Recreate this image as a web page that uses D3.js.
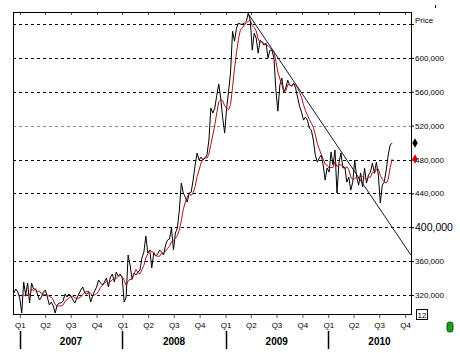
<!DOCTYPE html>
<html>
<head>
<meta charset="utf-8">
<script src="https://cdn.jsdelivr.net/npm/d3@7"></script>
<style>
body{margin:0;background:#fff;}
svg{display:block;}
text{font-family:"Liberation Sans",Arial,sans-serif;}
</style>
</head>
<body>
<svg id="chart" width="460" height="353"></svg>
<script>
// weekly closing price, first week starting 2006-12-11
var firstWeek = new Date(2006, 11, 11);
var price = [
  322400, 327100, 323500, 316500, 298800, 335300, 320000, 334200, 310600, 334200,
  327100, 327100, 321200, 314100, 317600, 323500, 325900, 317600, 308200, 311700,
  307000, 298800, 308200, 310600, 310600, 312900, 321200, 317600, 321200, 318800,
  314100, 310600, 316500, 321200, 325900, 329400, 322400, 321200, 323500, 311700,
  318800, 324700, 329400, 337700, 334200, 331800, 335300, 340100, 329400, 341200,
  344800, 335300, 347100, 342400, 344800, 340100, 311700, 317600, 367200, 355400,
  338900, 346000, 343600, 347100, 349500, 363700, 370700, 389600, 369600, 373100,
  351900, 369600, 366000, 368400, 373100, 370700, 367200, 379000, 384900, 386100,
  399100, 373100, 393200, 399100, 420300, 452200, 440400, 435600, 429700, 440400,
  441500, 455700, 473400, 487600, 479300, 482800, 479300, 481700, 485200, 502900,
  540700, 534800, 540700, 556000, 569000, 552500, 528900, 511200, 540700, 560700,
  583100, 631500, 619700, 635100, 641000, 639800, 639800, 641000, 643300, 652800,
  644500, 609100, 629200, 623300, 605600, 620900, 618500, 615000, 617400, 599700,
  609100, 609100, 599700, 561900, 537100, 567800, 576100, 559500, 564300, 573700,
  567800, 566600, 570200, 564300, 553600, 543000, 535900, 526500, 530000, 526500,
  517100, 514700, 502900, 485200, 476900, 481700, 485200, 473400, 455700, 469900,
  465100, 488700, 473400, 491100, 440400, 475800, 487600, 469900, 471000, 453300,
  459200, 443900, 453300, 479300, 459200, 449800, 464000, 447400, 469900, 452200,
  461600, 465100, 475800, 464000, 476900, 461600, 428600, 449800, 453300, 467500,
  485200, 497000, 499400
];
var maWeeks = 5;
// trend line drawn from the top through the lows
var trendDates = [new Date(2009, 2, 19), new Date(2010, 9, 22)];
var trendValues = [654000, 367000];

var priceTicks = [320000, 360000, 400000, 440000, 480000, 520000, 560000, 600000, 640000];
var years = [2007, 2008, 2009, 2010];
var quarterNames = ["Q1", "Q2", "Q3", "Q4"];

var svg = d3.select("#chart");

var x = d3.scaleTime()
  .domain([new Date(2006, 11, 8), new Date(2010, 9, 22)])
  .range([13, 411]);
var y = d3.scaleLinear()
  .domain([320000, 640000])
  .range([295, 24]);

var data = price.map(function(v, i){
  return {date: d3.timeDay.offset(firstWeek, 7*i), value: v};
});
var avg = [];
for(var i=maWeeks-1; i<data.length; i++){
  avg.push({
    date: data[i].date,
    value: d3.mean(data.slice(i-maWeeks+1, i+1), function(d){ return d.value; })
  });
}

//gridlines
svg.selectAll("line.grid")
  .data(priceTicks)
  .enter()
  .append("line")
  .attr("class", "grid")
  .attr("x1", 13)
  .attr("x2", 411)
  .attr("y1", function(d){ return Math.round(y(d)) + 0.5; })
  .attr("y2", function(d){ return Math.round(y(d)) + 0.5; })
  .attr("stroke", function(d){ return d == 520000 ? "#8a8a8a" : "#000"; })
  .attr("stroke-width", 1)
  .attr("stroke-dasharray", "3,3");

//quarters
var quarters = d3.timeMonths(new Date(2007, 0, 1), new Date(2010, 9, 2), 3);

svg.append("g")
  .attr("transform", "translate(0,315)")
  .call(d3.axisBottom(x)
    .tickValues(quarters)
    .tickSize(3)
    .tickPadding(4)
    .tickFormat(function(d){ return quarterNames[d.getMonth()/3]; }))
  .call(function(g){
    g.select(".domain").remove();
    g.selectAll("line").attr("stroke", "#555");
    g.selectAll("text")
      .attr("font-size", 8)
      .attr("font-family", "Liberation Sans, Arial")
      .attr("fill", "#000");
  });

svg.selectAll("line.toptick")
  .data(quarters)
  .enter()
  .append("line")
  .attr("class", "toptick")
  .attr("x1", function(d){ return Math.round(x(d)) + 0.5; })
  .attr("x2", function(d){ return Math.round(x(d)) + 0.5; })
  .attr("y1", 12)
  .attr("y2", 15)
  .attr("stroke", "#555");

//years
svg.selectAll("line.yearsep")
  .data(years)
  .enter()
  .append("line")
  .attr("class", "yearsep")
  .attr("x1", function(d){ return Math.round(x(new Date(d, 0, 1))) + 0.5; })
  .attr("x2", function(d){ return Math.round(x(new Date(d, 0, 1))) + 0.5; })
  .attr("y1", 331)
  .attr("y2", 349)
  .attr("stroke", "#000")
  .attr("stroke-width", 1.5);

svg.selectAll("text.year")
  .data(years)
  .enter()
  .append("text")
  .attr("class", "year")
  .attr("x", function(d){ return x(new Date(d, 6, 2)); })
  .attr("y", 345)
  .attr("text-anchor", "middle")
  .attr("font-size", 10)
  .attr("font-weight", "bold")
  .text(function(d){ return d; });

//price axis
svg.append("g")
  .attr("transform", "translate(411,0)")
  .call(d3.axisRight(y)
    .tickValues(priceTicks)
    .tickSize(3)
    .tickPadding(1)
    .tickFormat(function(d){ return d == 640000 ? "" : d3.format(",")(d); }))
  .call(function(g){
    g.select(".domain").remove();
    g.selectAll("line").attr("stroke", "#000");
    g.selectAll("text")
      .attr("font-size", function(d){ return d == 400000 ? 10.5 : 8; })
      .attr("font-family", "Liberation Sans, Arial")
      .attr("fill", "#000");
  });

svg.append("text")
  .attr("x", 415)
  .attr("y", 23)
  .attr("font-size", 8)
  .text("Price");

//frame
svg.append("rect")
  .attr("x", 13.5)
  .attr("y", 12.5)
  .attr("width", 398)
  .attr("height", 302)
  .attr("fill", "none")
  .attr("stroke", "#000")
  .attr("stroke-width", 1);

//lines
var line = d3.line()
  .x(function(d){ return x(d.date); })
  .y(function(d){ return y(d.value); });

svg.append("path")
  .datum(data)
  .attr("d", line)
  .attr("fill", "none")
  .attr("stroke", "#000")
  .attr("stroke-width", 1);

svg.append("path")
  .datum(avg)
  .attr("d", line)
  .attr("fill", "none")
  .attr("stroke", "#b01018")
  .attr("stroke-width", 1);

svg.append("line")
  .attr("x1", x(trendDates[0]))
  .attr("y1", y(trendValues[0]))
  .attr("x2", x(trendDates[1]))
  .attr("y2", y(trendValues[1]))
  .attr("stroke", "#14143c")
  .attr("stroke-width", 1);

//last value markers
var diamond = d3.symbol().type(d3.symbolDiamond).size(26);
svg.append("path")
  .attr("d", diamond)
  .attr("transform", "translate(415," + y(price[price.length-1]) + ")")
  .attr("fill", "#000");
svg.append("path")
  .attr("d", diamond)
  .attr("transform", "translate(415," + y(avg[avg.length-1].value) + ")")
  .attr("fill", "#e00000");

//little extras
svg.append("rect")
  .attr("x", 416.5)
  .attr("y", 309.5)
  .attr("width", 11)
  .attr("height", 10)
  .attr("fill", "#fff")
  .attr("stroke", "#000");
svg.append("text")
  .attr("x", 422)
  .attr("y", 318)
  .attr("text-anchor", "middle")
  .attr("font-size", 8)
  .text("12");

svg.append("rect")
  .attr("x", 447)
  .attr("y", 322)
  .attr("width", 6)
  .attr("height", 10)
  .attr("rx", 2.5)
  .attr("fill", "#1f9a1f")
  .attr("stroke", "#0a5a0a")
  .attr("stroke-width", 1);

svg.append("rect")
  .attr("x", 435)
  .attr("y", 5)
  .attr("width", 1)
  .attr("height", 3)
  .attr("fill", "#000");
</script>
</body>
</html>
